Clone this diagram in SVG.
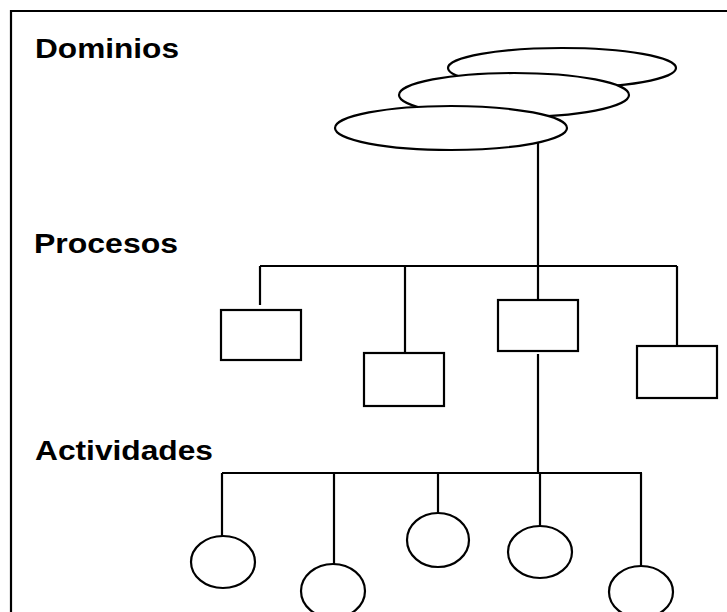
<svg xmlns="http://www.w3.org/2000/svg" width="727" height="612" viewBox="0 0 727 612">
<style>
.s{fill:#fff;stroke:#000;stroke-width:2.2}
.c{fill:none;stroke:#000;stroke-width:2.2}
.t{font-family:"Liberation Sans",Arial,sans-serif;font-weight:bold;font-size:28px;fill:#000}
</style>
<rect width="727" height="612" fill="#fff"/>
<path class="c" d="M11,612 V11 H727"/>
<g id="labels">
<text class="t" x="35" y="58" textLength="144" lengthAdjust="spacingAndGlyphs">Dominios</text>
<text class="t" x="34" y="253" textLength="144" lengthAdjust="spacingAndGlyphs">Procesos</text>
<text class="t" x="35" y="460" textLength="178" lengthAdjust="spacingAndGlyphs">Actividades</text>
</g>
<g id="connectors" class="c">
<path d="M538,143 V266"/>
<path d="M260,266 H677"/>
<path d="M260,266 V305"/>
<path d="M405,266 V353"/>
<path d="M538,266 V300"/>
<path d="M677,266 V346"/>
<path d="M538,354 V473"/>
<path d="M222,473 H642"/>
<path d="M222,473 V536"/>
<path d="M334,473 V564"/>
<path d="M438,473 V513"/>
<path d="M540,473 V526"/>
<path d="M641,473 V566"/>
</g>
<g id="domain3"><ellipse class="s" cx="562" cy="68" rx="114" ry="20"/></g>
<g id="domain2"><ellipse class="s" cx="514" cy="95" rx="115" ry="22"/></g>
<g id="domain1"><ellipse class="s" cx="451" cy="128" rx="116" ry="22"/></g>
<g id="proc1"><rect class="s" x="221" y="310" width="80" height="50"/></g>
<g id="proc2"><rect class="s" x="364" y="353" width="80" height="53"/></g>
<g id="proc3"><rect class="s" x="498" y="300" width="80" height="51"/></g>
<g id="proc4"><rect class="s" x="637" y="346" width="80" height="52"/></g>
<g id="act1"><ellipse class="s" cx="223" cy="562" rx="32" ry="26"/></g>
<g id="act2"><ellipse class="s" cx="333" cy="591" rx="32" ry="27"/></g>
<g id="act3"><ellipse class="s" cx="438" cy="540" rx="31" ry="27"/></g>
<g id="act4"><ellipse class="s" cx="540" cy="552" rx="32" ry="26"/></g>
<g id="act5"><ellipse class="s" cx="641" cy="592" rx="32" ry="26"/></g>
</svg>
